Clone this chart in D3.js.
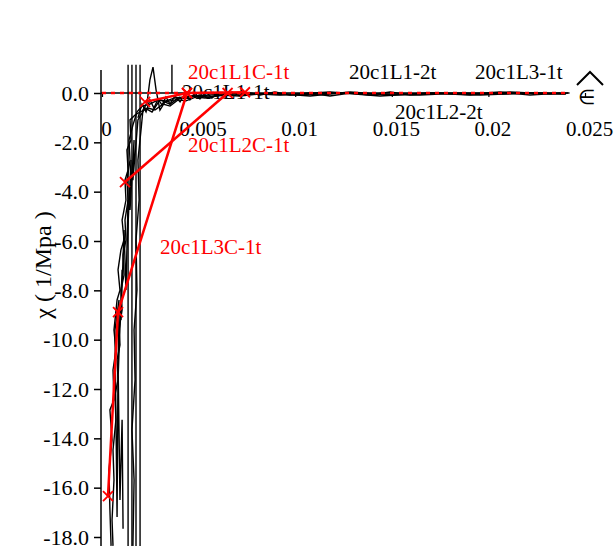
<!DOCTYPE html>
<html><head><meta charset="utf-8">
<script src="https://cdn.jsdelivr.net/npm/d3@7"></script>
<style>
body{margin:0;background:#fff}
svg{display:block;background:#fff}
text{font-family:"Liberation Serif","Times New Roman",serif}
</style>
</head><body>
<svg id="chart" width="615" height="546"></svg>
<script>
// ---- data ----
const xTicks = [0, 0.005, 0.01, 0.015, 0.02, 0.025];
const xTickLabels = ["0", "0.005", "0.01", "0.015", "0.02", "0.025"];
const yTicks = [0, -2, -4, -6, -8, -10, -12, -14, -16, -18];
const yTickLabels = ["0.0", "-2.0", "-4.0", "-6.0", "-8.0", "-10.0", "-12.0", "-14.0", "-16.0", "-18.0"];

// experimental (black) curves
const k1X = [0.00057,0.00052,0.00062,0.00057,0.00072,0.00067,0.00083,0.00078,0.00093,0.00088,0.00104,0.00098,0.00114,0.00109,0.00124,0.00119,0.00135,0.00129,0.00145,0.0014,0.0016,0.00181,0.00207,0.00248,0.0029,0.00331,0.00378,0.0043,0.00481,0.00559,0.00663,0.00818,0.01025,0.01232,0.01439,0.01646,0.01853,0.0206,0.02267,0.02396];
const k1Y = [-18.36,-17.31,-15.69,-14.47,-13.25,-12.24,-11.63,-10.82,-10.21,-9.61,-8.8,-7.99,-7.38,-6.57,-5.96,-5.15,-4.34,-3.53,-2.72,-1.91,-1.3,-0.77,-0.53,-0.45,-0.28,-0.32,-0.2,-0.16,-0.12,-0.08,-0.04,-0.04,-0.08,0,-0.04,-0.08,0,-0.04,0,-0.04];
const k2X = [0.00047,0.00041,0.00036,0.00052,0.00041,0.00062,0.00057,0.00072,0.00062,0.00078,0.00093,0.00083,0.00098,0.00114,0.00104,0.00124,0.00119,0.00135,0.00129,0.0015,0.00145,0.00171,0.00197,0.00238,0.00274,0.00316,0.00352,0.00393,0.00435,0.00487,0.00533,0.00611,0.00714,0.0087,0.01077,0.01284,0.01491,0.01698,0.01905,0.02112,0.02319,0.02412];
const k2Y = [-18.36,-16.9,-15.28,-14.07,-12.85,-12.44,-11.23,-10.42,-9.61,-8.39,-7.99,-7.17,-6.36,-5.96,-5.15,-4.34,-3.53,-3.12,-2.31,-1.91,-1.09,-0.89,-0.77,-0.61,-0.69,-0.45,-0.53,-0.28,-0.32,-0.16,-0.2,-0.08,-0.12,0,-0.12,0.04,-0.08,0,-0.08,0.04,-0.04,0];
const k3X = [0.0016,0.00166,0.00155,0.00171,0.00166,0.00181,0.00176,0.00192,0.00186,0.00202,0.00212,0.00233,0.00248,0.00264,0.0028,0.003,0.00326,0.00378,0.00455,0.00559,0.00714,0.00921,0.0118,0.01439,0.01698,0.01957,0.02215,0.02402];
const k3Y = [-18.36,-15.69,-13.66,-11.63,-9.61,-7.99,-5.96,-4.34,-2.72,-1.5,-0.69,-0.41,0.53,1.05,0.12,-0.69,-0.36,-0.28,-0.12,-0.16,0,-0.08,0.04,-0.12,0,-0.08,0,-0.04];
const k4X = [0.00186,0.00207,0.00228,0.00248,0.00269,0.0029,0.00311,0.00331,0.00352,0.00378,0.00404,0.0043,0.00455,0.00481,0.00507,0.00538,0.00569,0.006,0.00631,0.00673,0.00714,0.00766,0.00818,0.00895,0.00973,0.01077,0.0118,0.01284,0.01387,0.01491,0.01594,0.01749,0.01905,0.0206,0.02215,0.02371];
const k4Y = [-1.01,-0.45,-0.77,-0.28,-0.61,-0.24,-0.49,-0.16,-0.45,-0.12,-0.36,-0.04,-0.28,0,-0.24,0.04,-0.2,0,-0.16,0.04,-0.12,0,-0.08,0.04,-0.08,0,-0.12,0,-0.08,0.04,-0.08,0,-0.04,0.04,-0.08,0];
const k5X = [0.00109,0.00104,0.00093,0.00083,0.00078,0.00067,0.00088,0.00083,0.00104,0.00098,0.00114,0.00124,0.00135,0.00129,0.0015,0.00145,0.00166,0.0016,0.00186,0.00223,0.00259,0.003,0.00352,0.00404];
const k5Y = [-17.67,-13.25,-16.5,-10.82,-17.19,-9.61,-8.39,-11.63,-7.17,-9.2,-5.55,-7.99,-4.34,-6.36,-2.72,-4.74,-1.91,-3.53,-1.09,-0.61,-0.77,-0.28,-0.45,-0.16];
// off-scale spikes of the experimental records
const spikeX = [0.00135, 0.00155, 0.00176, 0.00197, 0.00362];
const spikeTop = [1.15, 1.15, 1.15, 1.15, 1.15];
const spikeBottom = [-18.8, -18.8, -18.8, -18.8, 0];

// computed (red) curves
const c1X = [0.00223, 0.0044, 0.0074];
const c1Y = [-0.36, 0.0, 0.03];
const c2X = [0.00119, 0.0065];
const c2Y = [-3.61, 0.0];
const c3X = [0.00031, 0.00083, 0.0044];
const c3Y = [-16.34, -8.88, 0.0];
const zeroX = [0, 0.0242];
const zeroY = [0, 0];

const redLabels = ["20c1L1C-1t", "20c1L2C-1t", "20c1L3C-1t"];
const blackLabels = ["20c1L1-1t", "20c1L1-2t", "20c1L3-1t", "20c1L2-2t"];

// ---- chart ----
const svg = d3.select("#chart");
const x = d3.scaleLinear().domain([0, 0.025]).range([102, 585]);
const y = d3.scaleLinear().domain([0, -18]).range([93, 537]);
const zip = (xs, ys) => xs.map((v, i) => [v, ys[i]]);
const line = d3.line().x(d => x(d[0])).y(d => y(d[1]));

svg.append("defs").append("clipPath").attr("id", "clip")
  .append("rect").attr("x", 100).attr("y", 64).attr("width", 515).attr("height", 482);

// y axis
const yAxis = svg.append("g").attr("transform", "translate(101,0)")
  .call(d3.axisLeft(y).tickValues(yTicks).tickFormat((d, i) => yTickLabels[i]).tickSize(7).tickPadding(5));
yAxis.select(".domain").remove();
yAxis.selectAll(".tick line").attr("stroke", "#000").attr("stroke-width", 1.5);
yAxis.selectAll("text").attr("font-size", 22).attr("fill", "#000")
  .style("font-family", "'Liberation Serif', serif");
svg.append("line").attr("x1", 101).attr("x2", 101).attr("y1", 70).attr("y2", 546)
  .attr("stroke", "#000").attr("stroke-width", 1.5);

// x axis
const xAxis = svg.append("g").attr("transform", `translate(0,${y(0)})`)
  .call(d3.axisBottom(x).tickValues(xTicks).tickFormat((d, i) => xTickLabels[i]).tickSize(4).tickPadding(24));
xAxis.select(".domain").remove();
xAxis.selectAll(".tick line").attr("stroke", "#000").attr("stroke-width", 1.2);
xAxis.selectAll("text").attr("font-size", 21).attr("fill", "#000").attr("dx", 4)
  .style("font-family", "'Liberation Serif', serif");
svg.append("line").attr("x1", x(0) - 1).attr("x2", x(0.0242)).attr("y1", y(0)).attr("y2", y(0))
  .attr("stroke", "#000").attr("stroke-width", 1.5);

// axis symbols
svg.append("text").attr("x", 586).attr("y", 104).attr("text-anchor", "middle")
  .attr("font-size", 20).text("∈");
svg.append("path").attr("d", "M577,85L590,72L603,85").attr("fill", "none")
  .attr("stroke", "#000").attr("stroke-width", 2);

// y label
svg.append("text").attr("transform", "translate(43,265) rotate(-90)")
  .attr("text-anchor", "middle").attr("dy", "0.35em").attr("font-size", 24)
  .text("χ ( 1/Mpa )");

const plot = svg.append("g").attr("clip-path", "url(#clip)");

// black label partly buried in the data
plot.append("text").attr("x", x(0.00414)).attr("y", y(-0.24)).attr("font-size", 21)
  .attr("fill", "#000").text(blackLabels[0]);

// black experimental curves
[[k1X, k1Y], [k2X, k2Y], [k3X, k3Y], [k4X, k4Y], [k5X, k5Y]].forEach(([xs, ys]) => {
  plot.append("path").datum(zip(xs, ys)).attr("d", line)
    .attr("fill", "none").attr("stroke", "#000").attr("stroke-width", 1.4);
});
spikeX.forEach((v, i) => {
  plot.append("path").datum([[v, spikeTop[i]], [v, spikeBottom[i]]]).attr("d", line)
    .attr("fill", "none").attr("stroke", "#000").attr("stroke-width", 1.4);
});

// red zero reference
plot.append("path").datum(zip(zeroX, zeroY)).attr("d", line)
  .attr("fill", "none").attr("stroke", "#ff0000").attr("stroke-width", 2.5)
  .attr("stroke-dasharray", "4,5");

// red computed curves
[[c1X, c1Y], [c2X, c2Y], [c3X, c3Y]].forEach(([xs, ys]) => {
  const pts = zip(xs, ys);
  plot.append("path").datum(pts).attr("d", line)
    .attr("fill", "none").attr("stroke", "#ff0000").attr("stroke-width", 2.5);
  plot.selectAll(null).data(pts).enter().append("path")
    .attr("transform", d => `translate(${x(d[0])},${y(d[1])})`)
    .attr("d", "M-5,-5L5,5M-5,5L5,-5").attr("stroke", "#ff0000").attr("stroke-width", 1.8);
});

// labels
const redPos = [[0.00445, 0.57], [0.00445, -2.39], [0.003, -6.53]];
redLabels.forEach((t, i) => svg.append("text").attr("x", x(redPos[i][0])).attr("y", y(redPos[i][1]))
  .attr("font-size", 21).attr("fill", "#ff0000").text(t));
const blackPos = [null, [0.01278, 0.57], [0.01931, 0.57], [0.01517, -1.05]];
blackLabels.forEach((t, i) => { if (!blackPos[i]) return;
  svg.append("text").attr("x", x(blackPos[i][0])).attr("y", y(blackPos[i][1]))
    .attr("font-size", 21).attr("fill", "#000").text(t); });
</script>
</body></html>
